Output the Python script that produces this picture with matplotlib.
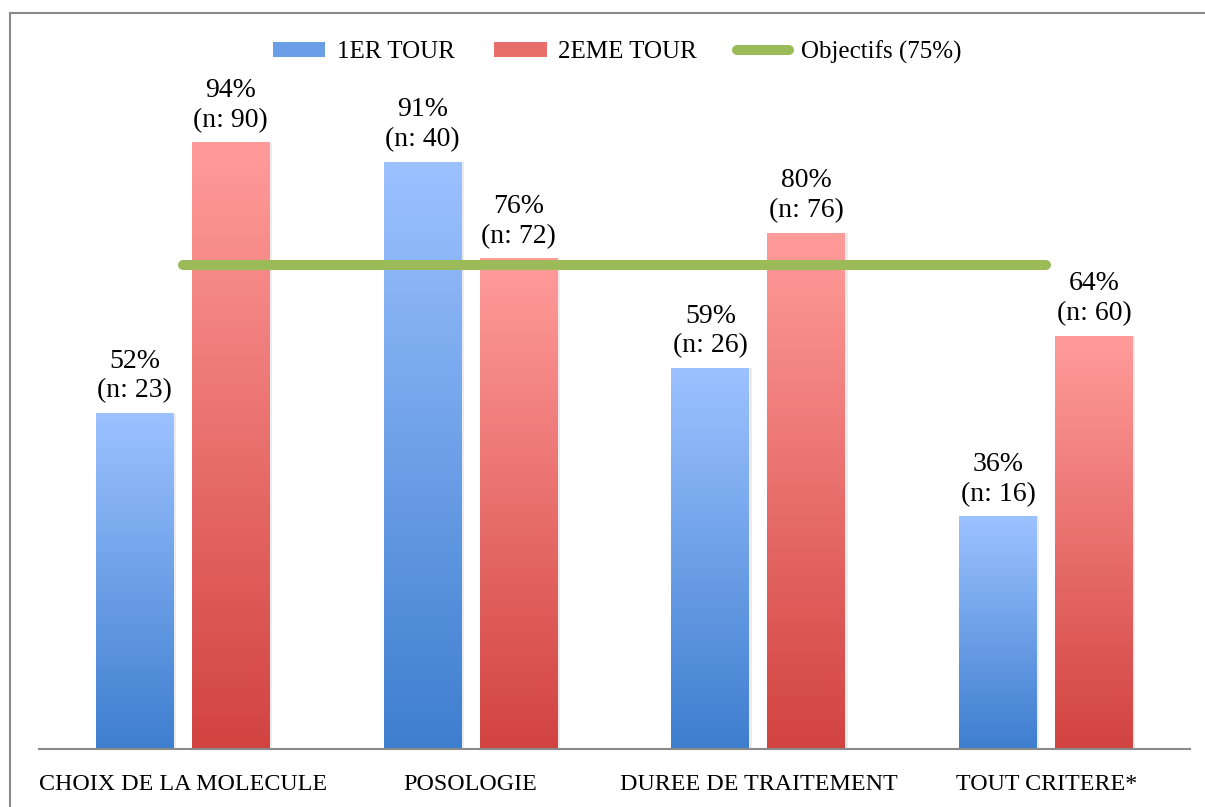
import numpy as np
import matplotlib.pyplot as plt
from matplotlib.patches import Patch, Rectangle
from matplotlib.lines import Line2D
from matplotlib.colors import to_rgb

# data
categories = ["CHOIX DE LA MOLECULE", "POSOLOGIE", "DUREE DE TRAITEMENT", "TOUT CRITERE*"]
tour1_pct = [52, 91, 59, 36]
tour1_n = [23, 40, 26, 16]
tour2_pct = [94, 76, 80, 64]
tour2_n = [90, 72, 76, 60]
objective = 75
series_names = ["1ER TOUR", "2EME TOUR", "Objectifs (75%)"]

plt.rcParams['font.family'] = ['Liberation Serif', 'DejaVu Serif']
FS_LAB = 20
FS_TICK = 17.3
FS_LEG = 18

W, H = 1205, 807
fig = plt.figure(figsize=(W / 100, H / 100), dpi=100)
ax = fig.add_axes([39 / W, 58 / H, 1151 / W, 645 / H])

blue_top, blue_bot = "#9cc2ff", "#3e7ecf"
red_top, red_bot = "#ff9c9a", "#d24340"


def gradient_bar(ax, xc, h, width, top, bot):
    c_top, c_bot = np.array(to_rgb(top)), np.array(to_rgb(bot))
    t = np.linspace(0, 1, 256)[:, None]
    img = (c_top * (1 - t) + c_bot * t)[:, None, :]
    ax.imshow(img, extent=[xc - width / 2, xc + width / 2, 0, h],
              aspect='auto', zorder=2, interpolation='bilinear')
    # soft shadow on the right
    ax.add_patch(Rectangle((xc + width / 2, 0), 0.008, h, color="#ececec",
                           zorder=1, lw=0))


x = np.arange(len(categories))
off = 0.1667
bw = 0.271

for i in range(len(categories)):
    gradient_bar(ax, x[i] - off, tour1_pct[i], bw, blue_top, blue_bot)
    gradient_bar(ax, x[i] + off, tour2_pct[i], bw, red_top, red_bot)
    ax.annotate(f"{tour1_pct[i]}%\n(n: {tour1_n[i]})", (x[i] - off, tour1_pct[i]),
                xytext=(0, 10), textcoords='offset pixels', ha='center', va='bottom',
                fontsize=FS_LAB, linespacing=1.25)
    ax.annotate(f"{tour2_pct[i]}%\n(n: {tour2_n[i]})", (x[i] + off, tour2_pct[i]),
                xytext=(0, 10), textcoords='offset pixels', ha='center', va='bottom',
                fontsize=FS_LAB, linespacing=1.25)

ax.plot([x[0], x[-1]], [objective, objective], color="#9bbb59", lw=7.2,
        solid_capstyle='round', zorder=3)

ax.set_xlim(-0.5, 3.5)
ax.set_ylim(0, 100)
ax.set_xticks(x)
ax.set_xticklabels(categories, fontsize=FS_TICK)
ax.tick_params(axis='x', length=0, pad=18)
ax.set_yticks([])
for s in ["top", "left", "right"]:
    ax.spines[s].set_visible(False)
ax.spines["bottom"].set_color("#8a8a8a")
ax.spines["bottom"].set_linewidth(1.5)
ax.spines["bottom"].set_zorder(4)

handles = [Patch(facecolor="#6a9ee6", edgecolor="none"),
           Patch(facecolor="#e86e6c", edgecolor="none"),
           Line2D([0], [0], color="#9bbb59", lw=7.2, solid_capstyle='round')]
fig.legend(handles, series_names, loc='center', bbox_to_anchor=(617 / W, 1 - 52 / H),
           ncol=3, frameon=False, fontsize=FS_LEG, handlelength=2.1, handleheight=0.6,
           handletextpad=0.45, columnspacing=1.6)

# outer frame
fig.add_artist(Line2D([10 / W, 1.0], [1 - 13 / H, 1 - 13 / H], color="#8a8a8a",
                      lw=1.5, transform=fig.transFigure))
fig.add_artist(Line2D([10 / W, 10 / W], [0, 1 - 13 / H], color="#8a8a8a",
                      lw=1.5, transform=fig.transFigure))

fig.savefig("out.png", dpi=100)
